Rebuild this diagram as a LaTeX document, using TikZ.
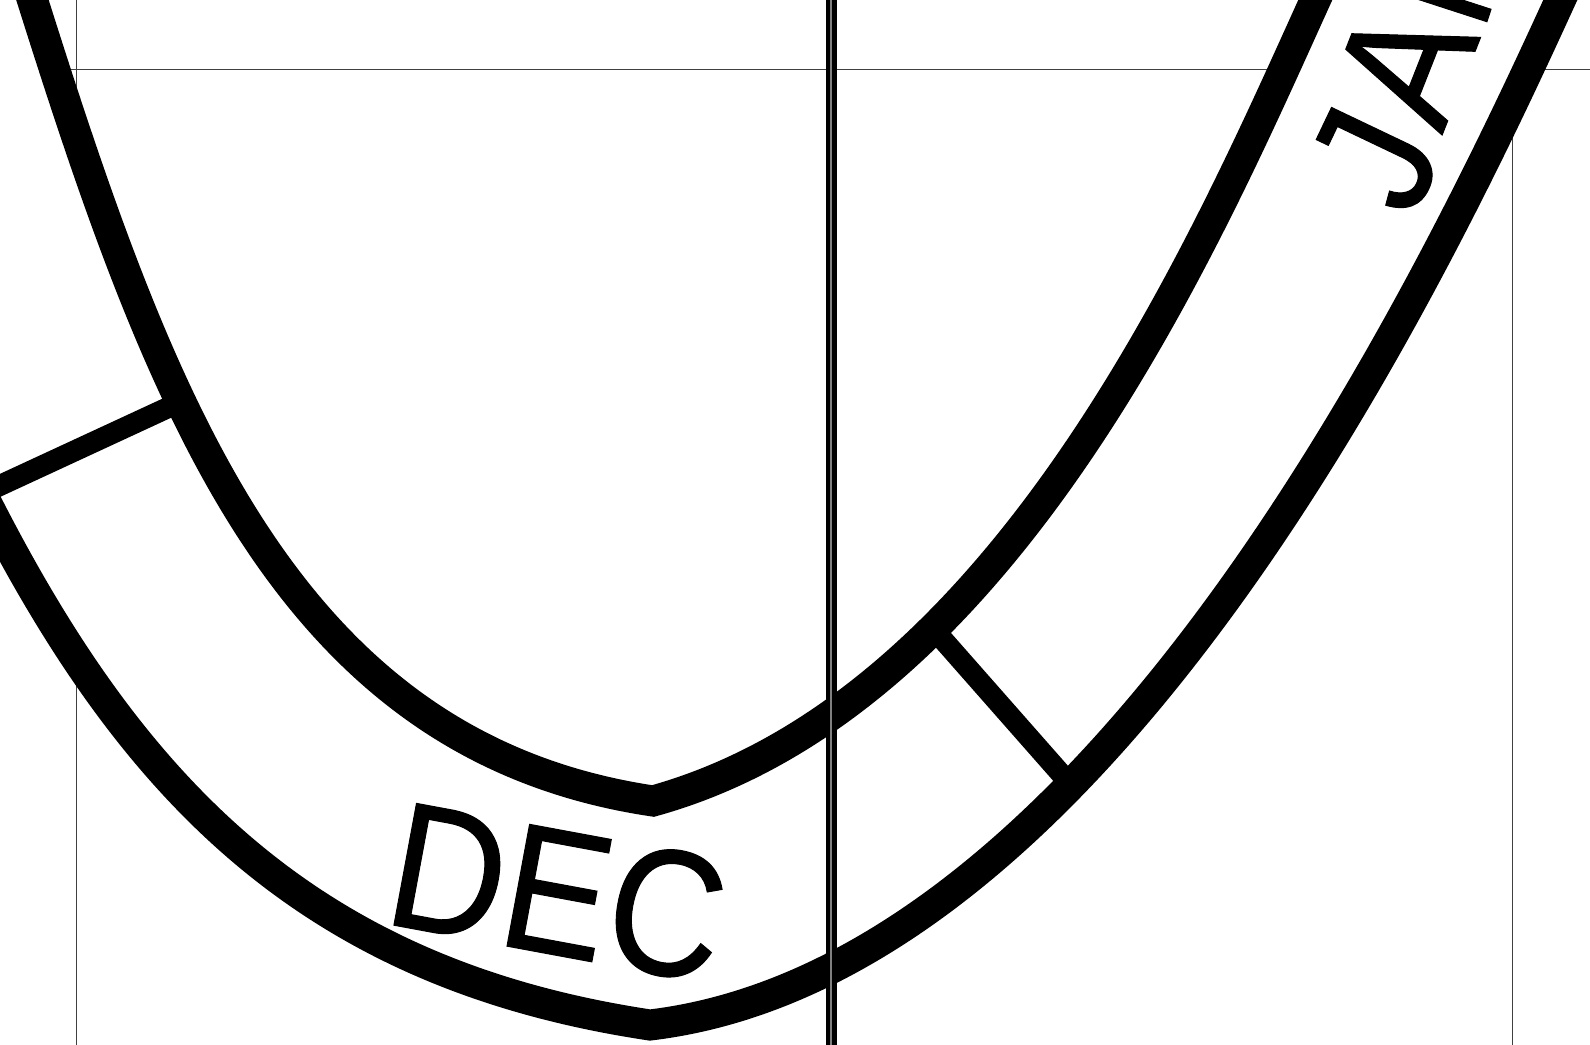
\documentclass[tikz,border=0pt]{standalone}
\usepackage{fontspec}
\setmainfont{Liberation Sans}
\newfontfamily\lblfont[FakeBold=0.6]{Liberation Sans}
\usepackage{graphicx}
\tikzset{
  ring/.style={line width=15.5pt, black},
  tickline/.style={line width=10.5pt, black},
  guide/.style={line width=0.5pt, black!75},
  lbl/.style={inner sep=0pt, outer sep=0pt, text=black},
  declbl/.style={lbl, font=\lblfont\fontsize{90}{94}\selectfont},
  janlbl/.style={lbl, font=\lblfont\fontsize{88}{92}\selectfont},
}
\begin{document}
\begin{tikzpicture}[x=0.5pt, y=-0.5pt]
\useasboundingbox (0,0) rectangle (1590,1044);
\clip (0,0) rectangle (1590,1044);
% thin guide lines
\draw[guide] (76,-5) -- (76,1050);
\draw[guide] (-5,69) -- (1595,69);
\draw[guide] (1512,-5) -- (1512,1050);
% white band between the two curves
\fill[white] (23,-30) .. controls (155,390) and (277,745) .. (653,801)
  .. controls (1024,698) and (1224,197.5) .. (1329,-30)
  -- (1574,-30) .. controls (1468,202) and (1126.6,968) .. (650,1025)
  .. controls (304,973) and (124,785) .. (-30,470)
  -- (-40,-30) -- cycle;
% radial ticks
\coordinate (t1a) at (-25,497);
\coordinate (t1b) at (178,403);
\coordinate (t2a) at (930,625);
\coordinate (t2b) at (1070,784);
\draw[tickline] (t1a) -- (t1b);
\draw[tickline] (t2a) -- (t2b);
% inner curve
\draw[ring] (23,-30) .. controls (155,390) and (277,745) .. (653,801)
  .. controls (1024,698) and (1224,197.5) .. (1329,-30);
% outer curve
\draw[ring] (-30,470) .. controls (124,785) and (304,973) .. (650,1025)
  .. controls (1126.6,968) and (1468,202) .. (1574,-30);
% month labels
\node[declbl, rotate=-10.5] (dec) at (557.7,892.5) {\scalebox{0.885}[1]{DEC}};
\node[janlbl, rotate=64.5] (janJ) at (1375,159) {\scalebox{0.9}[1]{J}};
\node[janlbl, rotate=68.5] (janA) at (1405,64) {\scalebox{0.9}[1]{A}};
\node[janlbl, rotate=72] (janN) at (1443,-39) {\scalebox{0.9}[1]{N}};
% vertical bar
\draw[line width=5.65pt, black] (831.7,-5) -- (831.7,1050);
\draw[line width=1pt, black!50] (831,-5) -- (831,1050);
\end{tikzpicture}
\end{document}
